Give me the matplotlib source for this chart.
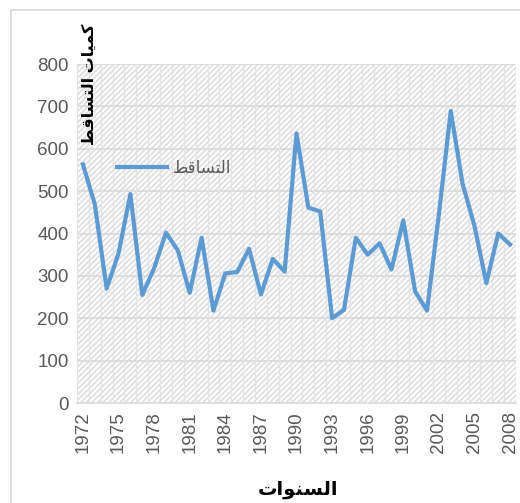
import matplotlib
matplotlib.use("Agg")
import matplotlib.pyplot as plt
from matplotlib.patches import Rectangle

# Arabic text is written in presentation forms, visual order (matplotlib does no shaping)
label_series = "\uFEC2\uFED7\uFE8E\uFEB4\uFE98\uFEDF\uFE8D"          # التساقط
label_x = "\uFE95\uFE8D\uFEEE\uFEE8\uFEB4\uFEDF\uFE8D"               # السنوات
label_y = label_series + " " + "\uFE95\uFE8E\uFEF4\uFEE4\uFEDB"      # كميات التساقط

years = list(range(1972, 2009))
rain = [563, 469, 270, 353, 493, 255, 318, 402, 360, 260,
        390, 218, 306, 309, 364, 256, 340, 310, 636, 461,
        452, 200, 220, 390, 350, 377, 315, 431, 263, 218,
        445, 689, 517, 418, 283, 400, 374]
yticks = [0, 100, 200, 300, 400, 500, 600, 700, 800]
xticks = years[::3]

plt.rcParams['font.family'] = ['Liberation Sans', 'DejaVu Sans']
plt.rcParams['hatch.linewidth'] = 1.3

fig = plt.figure(figsize=(5.2, 5.03), dpi=100)
fig.patches.append(Rectangle((11 / 520, -0.1), 1.2, 1 - 10 / 503 + 0.1,
                             transform=fig.transFigure, fill=False,
                             edgecolor='#d9d9d9', lw=1.2))

ax = fig.add_axes([77 / 520, 100 / 503, 439 / 520, 339 / 503])
# patterned plot area background
ax.add_patch(Rectangle((0, 0), 1, 1, transform=ax.transAxes, facecolor='white',
                       edgecolor='#e0e0e0', lw=0, hatch='//////', zorder=0))

ax.plot(years, rain, color='#5B9BD5', lw=3, label=label_series, zorder=3)

ax.set_xlim(1971.5, 2008.5)
ax.set_ylim(0, 800)
ax.set_yticks(yticks)
ax.set_xticks(xticks)
ax.set_xticklabels([str(y) for y in xticks], rotation=90)
ax.tick_params(axis='both', length=0, labelsize=13.5, colors='#595959', pad=6)

# horizontal grid at each 100, vertical grid at category boundaries
for v in yticks[1:]:
    ax.axhline(v, color='#d9d9d9', lw=1.2, zorder=1)
for b in range(len(years) + 1):
    ax.axvline(1971.5 + b, color='#e4e4e4', lw=0.9, zorder=1)

for s in ['top', 'right', 'left']:
    ax.spines[s].set_visible(False)
ax.spines['bottom'].set_color('#d9d9d9')
ax.spines['bottom'].set_linewidth(1.2)

leg = ax.legend(loc='center left', bbox_to_anchor=(0.058, 0.693), frameon=False,
                handlelength=3.0, handletextpad=0.3, labelcolor='#595959',
                prop={'family': ['Liberation Sans', 'DejaVu Sans'], 'size': 12})

fig.text(89 / 520, 1 - 84 / 503, label_y, rotation=90, ha='center', va='center',
         fontsize=11.5, fontweight='bold', color='black')
fig.text(298 / 520, 13 / 503, label_x, ha='center', va='center',
         fontsize=14, fontweight='bold', color='black')

fig.savefig('out.png', dpi=100)
